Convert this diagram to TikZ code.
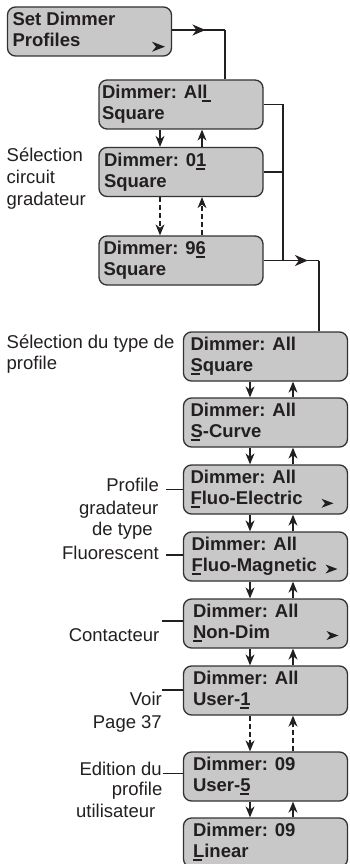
\documentclass[tikz,border=0pt]{standalone}
\usepackage{fontspec}
\setmainfont{Liberation Sans}
\usetikzlibrary{arrows.meta,calc,decorations.markings}
\definecolor{boxfill}{RGB}{200,200,200}
\definecolor{boxline}{RGB}{50,50,50}
\definecolor{ink}{RGB}{35,31,32}
\newcommand\fs{\fontsize{18.5}{22}\selectfont}
\newcommand\cur[1]{\rlap{\rule[-3.6pt]{9pt}{2pt}}#1}
\newcommand\dispbox[6]{%
  \node[dbox] (#1) at (#2,#3) {};
  \node[dtext] (#1l1) at ($(#1.north west)+(#4,19.5)$) {#5};
  \node[dtext] (#1l2) at ($(#1.north west)+(#4,40.5)$) {#6};
}
\begin{document}
\begin{tikzpicture}[x=1pt,y=-1pt,
  dbox/.style={draw=boxline,fill=boxfill,line width=1.3pt,rounded corners=8pt,
    minimum width=164pt,minimum height=49pt,inner sep=0pt},
  dtext/.style={anchor=base west,inner sep=0pt,font=\fs\bfseries,text=ink},
  lblw/.style={anchor=base west,inner sep=0pt,font=\fs,text=ink},
  lble/.style={anchor=base east,inner sep=0pt,font=\fs,text=ink},
  conn/.style={draw=ink,line width=1.2pt},
  arr/.style={-{Stealth[length=11pt,width=9pt,inset=3.5pt]}},
  dashconn/.style={dash pattern=on 5pt off 3pt},
  midarrow/.style={postaction={decorate},decoration={markings,
    mark=at position #1 with {\arrow{Stealth[length=13pt,width=11pt,inset=4pt]}}}},
  glyph/.style={fill=ink}]
\useasboundingbox (0,0) rectangle (349,864);
\clip (0,0) rectangle (349,864);

% boxes
\dispbox{b1}{89.5}{31.5}{5.5}{Set Dimmer}{Profiles}
\dispbox{b2}{181}{104.5}{3.5}{Dimmer: Al\cur{l}}{Square}
\dispbox{b3}{181}{172}{5.5}{Dimmer: 0\cur{1}}{Square}
\dispbox{b4}{181}{260.5}{5}{Dimmer: 9\cur{6}}{Square}
\dispbox{b5}{265.5}{356.5}{7.5}{Dimmer: All}{\cur{S}quare}
\dispbox{b6}{265.5}{422.5}{7.5}{Dimmer: All}{\cur{S}-Curve}
\dispbox{b7}{265.5}{489.5}{7.5}{Dimmer: All}{\cur{F}luo-Electric}
\dispbox{b8}{265.5}{556.5}{8.5}{Dimmer: All}{\cur{F}luo-Magnetic}
\dispbox{b9}{265.5}{623.5}{10}{Dimmer: All}{\cur{N}on-Dim}
\dispbox{b10}{265.5}{690.5}{10}{Dimmer: All}{User-\cur{1}}
\dispbox{b11}{265.5}{776.5}{10}{Dimmer: 09}{User-\cur{5}}
\dispbox{b12}{265.5}{842.5}{10}{Dimmer: 09}{\cur{L}inear}

% small arrow glyphs inside boxes
\fill[glyph] (165,46.7) -- ++(-13,-5) -- ++(4,5) -- ++(-4,5) -- cycle;
\fill[glyph] (333.5,503.3) -- ++(-12,-4.5) -- ++(3.5,4.5) -- ++(-3.5,4.5) -- cycle;
\fill[glyph] (337.5,569) -- ++(-12,-4.5) -- ++(3.5,4.5) -- ++(-3.5,4.5) -- cycle;
\fill[glyph] (338.5,635.5) -- ++(-12,-4.5) -- ++(3.5,4.5) -- ++(-3.5,4.5) -- cycle;

% helper coordinates
\coordinate (c1) at (225,30);
\coordinate (c2) at (283,0);
\coordinate (c3) at (319,0);
\coordinate (xa) at (160,0);
\coordinate (xb) at (202,0);
\coordinate (xc) at (250,0);
\coordinate (xd) at (293,0);

% main connectors
\draw[conn,midarrow=0.63] (b1.east |- c1) -- (c1);
\draw[conn] (c1) -- (b2.north -| c1);
\draw[conn] (b2.east) -| (b4.east -| c2);
\draw[conn] (b3.east) -- (b3.east -| c2);
\draw[conn,midarrow=0.8] (b4.east) -- (b4.east -| c3);
\draw[conn] (b4.east -| c3) -- (b5.north -| c3);

% up/down arrows, upper part
\draw[conn,arr] (b2.south -| xa) -- (b3.north -| xa);
\draw[conn,arr] (b3.north -| xb) -- (b2.south -| xb);
\draw[conn,arr,dashconn] (b3.south -| xa) -- (b4.north -| xa);
\draw[conn,arr,dashconn] (b4.north -| xb) -- (b3.south -| xb);

% up/down arrows, lower part
\foreach \u/\l in {b5/b6,b6/b7,b7/b8,b8/b9,b9/b10,b11/b12}{
  \draw[conn,arr] (\u.south -| xc) -- (\l.north -| xc);
  \draw[conn,arr] (\l.north -| xd) -- (\u.south -| xd);
}
\draw[conn,arr,dashconn] (b10.south -| xc) -- (b11.north -| xc);
\draw[conn,arr,dashconn] (b11.north -| xd) -- (b10.south -| xd);

% labels
\node[lblw] (s1) at (6.5,161) {Sélection};
\node[lblw] (s2) at (6.5,183) {circuit};
\node[lblw] (s3) at (6.5,205) {gradateur};

\node[lblw] (t1) at (6.5,348) {Sélection du type de};
\node[lblw] (t2) at (6.5,369) {profile};

\node[lble] (f1) at (159,491) {Profile};
\node[lble] (f2) at (158.5,514) {gradateur};
\node[lble] (f3) at (153,535) {de type};
\node[lble] (f4) at (159,559) {Fluorescent};
\coordinate (fl1) at (166,489.5);
\coordinate (fl2) at (166,555);
\draw[conn] (fl1) -- (fl1 -| b7.west);
\draw[conn] (fl2) -- (fl2 -| b8.west);

\node[lble] (k1) at (159.5,641) {Contacteur};
\coordinate (kl) at (162,621);
\draw[conn] (kl) -- (kl -| b9.west);

\node[lble] (v1) at (162,705) {Voir};
\node[lble] (v2) at (162,728) {Page 37};
\coordinate (vl) at (162,690);
\draw[conn] (vl) -- (vl -| b10.west);

\node[lble] (e1) at (162,775) {Edition du};
\node[lble] (e2) at (162.5,795.5) {profile};
\node[lble] (e3) at (155.5,817.5) {utilisateur};
\coordinate (el) at (162.5,773.5);
\draw[conn] (el) -- (el -| b11.west);
\end{tikzpicture}
\end{document}
